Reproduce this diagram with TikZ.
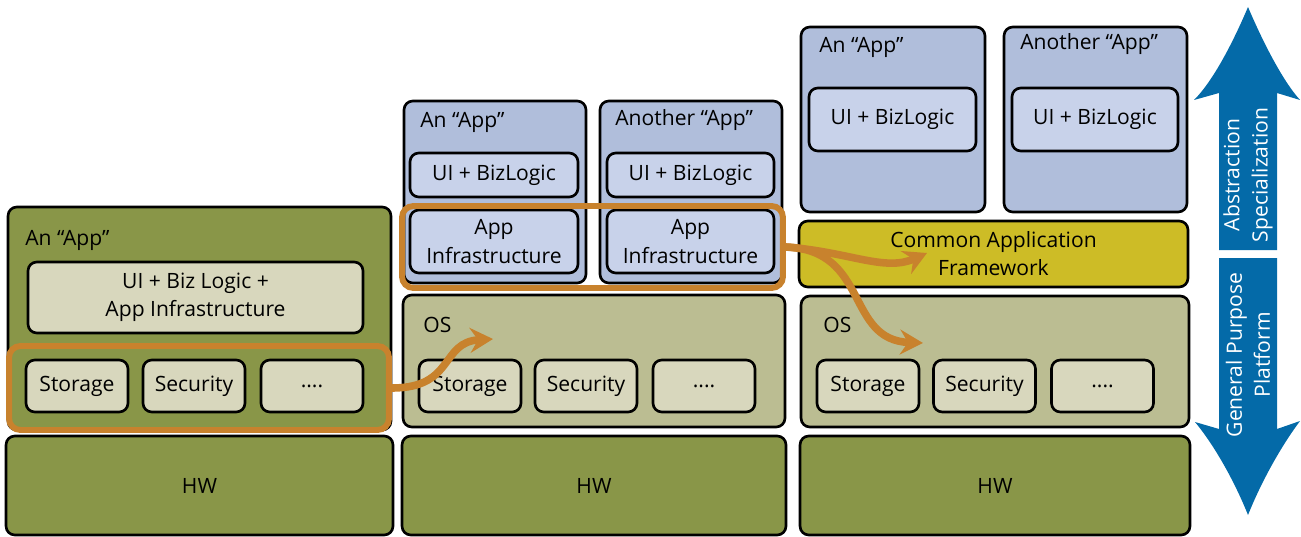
\documentclass[tikz,border=0pt]{standalone}
\usepackage{fontspec}
\setmainfont{Open Sans}
\usetikzlibrary{arrows.meta}
\definecolor{Olive}{HTML}{899648}
\definecolor{OSGreen}{HTML}{BBBD92}
\definecolor{Sand}{HTML}{D8D7BD}
\definecolor{AppBlue}{HTML}{B0BEDB}
\definecolor{PaleBlue}{HTML}{C8D2EA}
\definecolor{Mustard}{HTML}{CDBC26}
\definecolor{Amber}{HTML}{C8822D}
\definecolor{Sea}{HTML}{046AA8}

\begin{document}
\begin{tikzpicture}[x=0.02cm, y=-0.02cm,
    every node/.style={font=\fontsize{12}{16}\selectfont, inner sep=0pt, align=center},
    layer/.style={draw=black, line width=1.5pt, rounded corners=5pt},
    hw/.style={layer, fill=Olive, minimum height=1.98cm},
    os/.style={layer, fill=OSGreen, minimum height=2.64cm},
    svc/.style={layer, fill=Sand, minimum width=2.04cm, minimum height=1.04cm},
    app/.style={layer, fill=AppBlue},
    part/.style={layer, fill=PaleBlue},
    caption/.style={anchor=base west},
    hilite/.style={draw=Amber, line width=3.4pt, rounded corners=6.5pt},
    flow/.style={draw=Amber, line width=4.3pt, -{Stealth[length=4.6mm, width=5mm, inset=1.6mm]}},
    side/.style={fill=Sea},
    sidetext/.style={text=white, rotate=90}]

    \useasboundingbox (0,0) rectangle (1301,537);

    % monolithic app
    \node[layer, fill=Olive, minimum width=7.66cm, minimum height=4.46cm] (app1) at (199.5,318.5) {};
    \node[caption] (app1cap) at (25,245) {An “App”};
    \node[layer, fill=Sand, minimum width=6.7cm, minimum height=1.42cm] (core1) at (195.5,297.5) {UI + Biz Logic +\\App Infrastructure};
    \node[svc] (st1) at (77,386) {Storage};
    \node[svc] (se1) at (194,386) {Security};
    \node[svc] (etc1) at (312,386) {....};
    \node[hw, minimum width=7.74cm] (hw1) at (199.5,485.5) {HW};
    \node[hilite, minimum width=7.6cm, minimum height=1.68cm] (hl1) at (199,388) {};

    % apps on an OS
    \node[app, minimum width=3.64cm, minimum height=3.64cm] (appA) at (495,192) {};
    \node[app, minimum width=3.64cm, minimum height=3.64cm] (appB) at (691,192) {};
    \node[caption] (appAcap) at (420,128) {An “App”};
    \node[caption] (appBcap) at (615,126) {Another “App”};
    \node[part, minimum width=3.36cm, minimum height=0.88cm] (uiA) at (494,175) {UI + BizLogic};
    \node[part, minimum width=3.34cm, minimum height=0.88cm] (uiB) at (690.5,175) {UI + BizLogic};
    \node[part, minimum width=3.36cm, minimum height=1.26cm] (infA) at (494,241.5) {App\\Infrastructure};
    \node[part, minimum width=3.34cm, minimum height=1.26cm] (infB) at (690.5,241.5) {App\\Infrastructure};
    \node[os, minimum width=7.64cm] (os2) at (594,361) {};
    \node[caption] (os2cap) at (423,332) {OS};
    \node[svc] (st2) at (470,386) {Storage};
    \node[svc] (se2) at (586,386) {Security};
    \node[svc] (etc2) at (704,386) {....};
    \node[hw, minimum width=7.68cm] (hw2) at (594,485.5) {HW};
    \node[hilite, minimum width=7.62cm, minimum height=1.64cm] (hl2) at (592.5,247) {};

    % apps on a common framework
    \node[app, minimum width=3.68cm, minimum height=3.7cm] (appC) at (893,119.5) {};
    \node[app, minimum width=3.66cm, minimum height=3.7cm] (appD) at (1095.5,119.5) {};
    \node[caption] (appCcap) at (819,53) {An “App”};
    \node[caption] (appDcap) at (1020,50) {Another “App”};
    \node[part, minimum width=3.34cm, minimum height=1.26cm] (uiC) at (892.5,119.5) {UI + BizLogic};
    \node[part, minimum width=3.32cm, minimum height=1.26cm] (uiD) at (1095,119.5) {UI + BizLogic};
    \node[layer, fill=Mustard, minimum width=7.78cm, minimum height=1.32cm] (caf) at (993.5,254) {Common Application\\Framework};
    \node[os, minimum width=7.76cm, minimum height=2.62cm] (os3) at (995,361.5) {};
    \node[caption] (os3cap) at (823,332) {OS};
    \node[svc] (st3) at (868,386) {Storage};
    \node[svc] (se3) at (984.5,386) {Security};
    \node[svc] (etc3) at (1102.5,386) {....};
    \node[hw, minimum width=7.8cm] (hw3) at (995,485.5) {HW};

    % moves
    \coordinate (t1) at (493,339);
    \coordinate (t2) at (927,253);
    \coordinate (t3) at (923,343);
    \draw[flow] (hl1.east) .. controls (455,388) and (440,342) .. (t1);
    \draw[flow] (hl2.east) .. controls (850,252) and (885,272) .. (t2);
    \draw[flow] (hl2.east) .. controls (870,250) and (845,340) .. (t3);

    % scale arrow
    \fill[side] (1248,7) .. controls (1262,40) and (1282,80) .. (1300,100) -- (1277,93) -- (1277,250)
      -- (1219,250) -- (1219,93) -- (1194,100) .. controls (1214,80) and (1234,40) .. (1248,7) -- cycle;
    \fill[side] (1219,258) -- (1277,258) -- (1277,429) -- (1300,421) .. controls (1282,445) and (1262,480) .. (1248,515)
      .. controls (1234,480) and (1214,445) .. (1195,422) -- (1219,429) -- cycle;
    \node[sidetext] (absn) at (1248,175) {Abstraction\\Specialization};
    \node[sidetext] (gen) at (1248,355) {General Purpose\\Platform};
  \end{tikzpicture}
\end{document}
